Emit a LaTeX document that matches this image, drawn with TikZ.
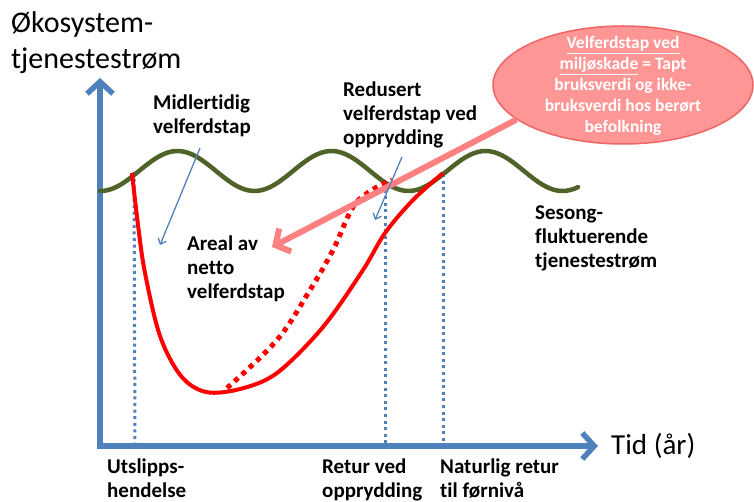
\documentclass[tikz,border=0pt]{standalone}
\usepackage{fontspec}
\setmainfont{Carlito}[Ligatures=NoCommon]
\usetikzlibrary{arrows.meta,shapes.geometric}
\definecolor{axisblue}{RGB}{79,129,189}
\definecolor{olive}{RGB}{79,98,40}
\definecolor{lossred}{RGB}{255,0,0}
\definecolor{pinkline}{RGB}{255,128,128}
\definecolor{bubblefill}{RGB}{255,150,150}
\definecolor{bubbleedge}{RGB}{240,100,100}
\tikzset{
  axisline/.style={axisblue, line width=5.5pt, -{Straight Barb[length=12pt,width=26pt]}},
  dotline/.style={axisblue, line width=3pt, dash pattern=on 3pt off 3.6pt},
  wave/.style={olive, line width=4.5pt},
  losscurve/.style={lossred, line width=4pt},
  cleanup/.style={lossred, line width=5pt, dash pattern=on 5pt off 5pt},
  thinarrow/.style={axisblue, line width=1.3pt, -{Straight Barb[length=5pt,width=9pt]}},
  pinkarrow/.style={pinkline, line width=6pt, -{Straight Barb[length=11pt,width=26pt]}},
  lbl/.style={font=\fontsize{21}{24}\selectfont\bfseries, align=left, inner sep=0pt, anchor=north west},
  bottomlbl/.style={lbl},
  bigtext/.style={font=\fontsize{30}{36}\selectfont, align=left, inner sep=0pt},
  callout/.style={ellipse, fill=bubblefill, draw=bubbleedge, line width=1.5pt, minimum width=260pt, minimum height=118pt, inner sep=0pt},
  callouttext/.style={font=\fontsize{17.5}{21}\selectfont\bfseries, text=white, align=center, inner sep=0pt}
}
\begin{document}
\begin{tikzpicture}[x=1pt,y=-1pt]
\useasboundingbox (0,0) rectangle (754,502);

% axes
\coordinate (origin) at (100,446);
\coordinate (ytip) at (100,78);
\coordinate (xtip) at (598,446);
\coordinate (origin2) at (97.25,446);
\draw[axisline] (origin2) -- (xtip);
\draw[axisline] ([yshift=-2.75pt]origin) -- (ytip);

% dotted time markers
\coordinate (d1t) at (134,172);
\coordinate (d1b) at (135,443);
\coordinate (d2t) at (385,183);
\coordinate (d2b) at (385,443);
\coordinate (d3t) at (443,174);
\coordinate (d3b) at (443,443);
\draw[dotline] (d1t) -- (d1b);
\draw[dotline] (d2t) -- (d2b);
\draw[dotline] (d3t) -- (d3b);

% seasonal wave
\draw[wave, line cap=round] plot[domain=100:578, samples=120, smooth] (\x, {171 - 20*sin(2.33766*(\x-139))});

% dotted cleanup curve
\draw[cleanup] plot[smooth, tension=0.6] coordinates {(227,388) (277,340) (310,290) (333,250) (353,207) (372,190) (392,180)};

% solid loss curve
\draw[losscurve] plot[smooth, tension=0.55] coordinates {(132,173) (138,225) (145,273) (160,336) (181,376) (206,392) (240,389) (277,373) (323,327) (363,270) (385,233) (413,200) (443,173)};

% callout
\node[callout] (bubble) at (623,85) {};
\node[callouttext] (bubbletext) at (623,86) {\underline{Velferdstap ved}\\\underline{miljøskade} = Tapt\\bruksverdi og ikke-\\bruksverdi hos berørt\\befolkning};
\coordinate (pinktip) at (272,247);
\draw[pinkarrow] (bubble.198) -- (pinktip);

% labels
\node[bigtext, anchor=north west] (ylabel) at (11,11) {Økosystem-\\tjenestestrøm};
\node[bigtext, anchor=base west, font=\fontsize{29}{32}\selectfont] (xlabel) at (611,454) {Tid (år)};

\node[lbl] (midl) at (153,95) {Midlertidig\\velferdstap};
\node[lbl] (redu) at (343,82) {Redusert\\velferdstap ved\\opprydding};
\node[lbl] (areal) at (187,236) {Areal av\\netto\\velferdstap};
\node[lbl] (seson) at (535,206) {Sesong-\\fluktuerende\\tjenestestrøm};

\node[bottomlbl] (utsl) at (107,459) {Utslipps-\\hendelse};
\node[bottomlbl] (retur) at (322,459) {Retur ved\\opprydding};
\node[bottomlbl] (natur) at (440,459) {Naturlig retur\\til førnivå};

% thin pointer arrows
\coordinate (a1s) at (200,148);
\coordinate (a1e) at (160,245);
\coordinate (a2s) at (402,157);
\coordinate (a2e) at (375,220);
\draw[thinarrow] (a1s) -- (a1e);
\draw[thinarrow] (a2s) -- (a2e);
\end{tikzpicture}
\end{document}
